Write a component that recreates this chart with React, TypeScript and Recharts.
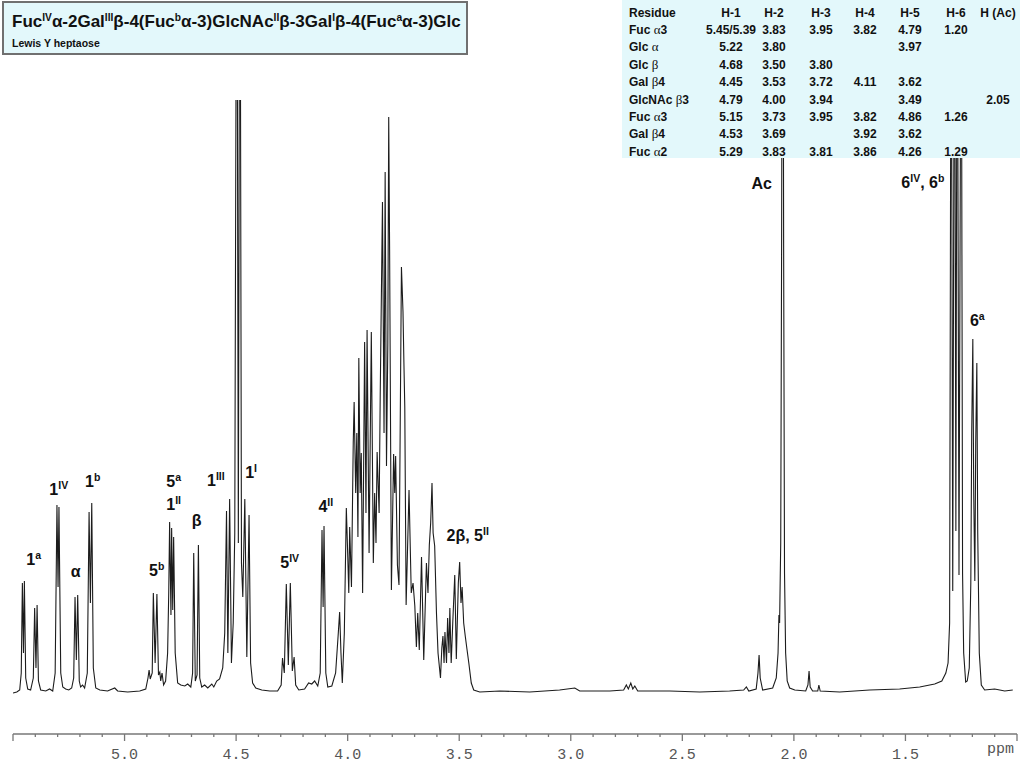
import React from 'react';
import { LineChart, Line, XAxis, YAxis, ReferenceDot } from 'recharts';

type Pt = [number, number];

// [chemical shift (ppm), intensity above baseline]
const anomericRegion: Pt[] = [
  [5.5, 0], [5.483, 1], [5.47, 3], [5.463, 20], [5.458, 110], [5.453, 40], [5.449, 112], [5.443, 15],
  [5.434, 4], [5.421, 3], [5.409, 15], [5.403, 85], [5.397, 25], [5.392, 88], [5.386, 12], [5.376, 3],
  [5.353, 2], [5.336, 4], [5.322, 2], [5.311, 20], [5.303, 188], [5.298, 106], [5.294, 186], [5.286, 20],
  [5.277, 6], [5.264, 4], [5.25, 3], [5.237, 5], [5.228, 15], [5.222, 96], [5.216, 33], [5.21, 98],
  [5.203, 12], [5.197, 6], [5.188, 8], [5.179, 5], [5.167, 20], [5.159, 181], [5.153, 90], [5.147, 190],
  [5.14, 25], [5.129, 5], [5.111, 3], [5.076, 2], [5.044, 5], [5.031, 2], [4.986, 1], [4.932, 2],
  [4.905, 4], [4.895, 15], [4.89, 23], [4.885, 14], [4.876, 20], [4.871, 100], [4.863, 30], [4.855, 99],
  [4.848, 18], [4.842, 21], [4.838, 12], [4.832, 20], [4.825, 8], [4.816, 12], [4.807, 40], [4.802, 100],
  [4.798, 171], [4.792, 78], [4.789, 165], [4.784, 83], [4.78, 156], [4.773, 40], [4.762, 10], [4.748, 8],
  [4.73, 7], [4.717, 9], [4.703, 6], [4.695, 20], [4.69, 140], [4.683, 12], [4.675, 18], [4.669, 148],
  [4.663, 15], [4.654, 6], [4.641, 8], [4.627, 5], [4.609, 9], [4.6, 6], [4.587, 12], [4.574, 14],
  [4.56, 25], [4.551, 60], [4.543, 182], [4.537, 40], [4.529, 194], [4.521, 30], [4.513, 70], [4.506, 160],
  [4.497, 900], [4.49, 150], [4.483, 900], [4.476, 130], [4.47, 96], [4.461, 194], [4.452, 36], [4.442, 178],
  [4.435, 30], [4.426, 10], [4.412, 5], [4.385, 3], [4.349, 2], [4.314, 2], [4.298, 8], [4.292, 35],
  [4.284, 20], [4.275, 109], [4.266, 28], [4.257, 110], [4.248, 22], [4.24, 36], [4.233, 8], [4.219, 3],
];

const ringRegion: Pt[] = [
  [4.193, 4], [4.175, 10], [4.161, 9], [4.148, 12], [4.134, 7], [4.123, 20], [4.115, 163], [4.11, 86],
  [4.106, 167], [4.098, 20], [4.089, 6], [4.071, 7], [4.054, 20], [4.042, 60], [4.036, 81], [4.03, 40],
  [4.024, 10], [4.015, 60], [4.006, 185], [4.0, 140], [3.995, 100], [3.991, 166], [3.983, 106], [3.975, 250],
  [3.971, 291], [3.964, 200], [3.959, 260], [3.954, 156], [3.95, 335], [3.944, 200], [3.939, 240], [3.933, 100],
  [3.924, 351], [3.918, 180], [3.913, 363], [3.904, 140], [3.894, 361], [3.885, 130], [3.879, 200], [3.873, 150],
  [3.868, 241], [3.859, 180], [3.854, 300], [3.844, 491], [3.837, 260], [3.832, 521], [3.826, 227], [3.82, 350],
  [3.816, 576], [3.812, 443], [3.804, 103], [3.794, 239], [3.789, 200], [3.785, 237], [3.777, 128], [3.77, 108],
  [3.759, 426], [3.752, 381], [3.748, 331], [3.744, 286], [3.738, 88], [3.725, 203], [3.715, 100], [3.707, 110],
  [3.699, 87], [3.692, 46], [3.686, 80], [3.679, 43], [3.669, 136], [3.659, 33], [3.647, 130], [3.64, 100],
  [3.634, 148], [3.628, 170], [3.622, 210], [3.617, 160], [3.61, 147], [3.602, 80], [3.595, 40], [3.584, 15],
  [3.578, 45], [3.573, 57], [3.568, 30], [3.564, 61], [3.557, 30], [3.552, 75], [3.546, 40], [3.542, 85],
  [3.536, 30], [3.529, 70], [3.52, 118], [3.513, 34], [3.504, 110], [3.498, 131], [3.492, 90], [3.487, 106],
  [3.48, 70], [3.473, 57], [3.466, 45], [3.457, 30], [3.446, 10], [3.435, 3], [3.408, 1],
];

const baselineRegion: Pt[] = [
  [3.318, 2], [3.184, 1], [3.05, 3], [2.982, 5], [2.96, 2], [2.825, 2], [2.763, 3], [2.751, 8],
  [2.742, 4], [2.731, 10], [2.722, 4], [2.713, 7], [2.7, 2], [2.556, 2], [2.422, 1], [2.288, 2],
  [2.225, 3], [2.213, 6], [2.202, 2], [2.169, 4], [2.161, 20], [2.156, 38], [2.151, 15], [2.14, 3],
];

const acetylRegion: Pt[] = [
  [2.095, 5], [2.079, 15], [2.071, 40], [2.067, 78], [2.064, 70], [2.059, 150], [2.055, 450], [2.05, 1000],
  [2.046, 450], [2.042, 120], [2.037, 40], [2.03, 12], [2.019, 5], [1.996, 3], [1.947, 2], [1.937, 8],
  [1.932, 22], [1.927, 6], [1.916, 2], [1.893, 2], [1.888, 8], [1.882, 2], [1.795, 1], [1.66, 3],
  [1.526, 4], [1.436, 6], [1.369, 9],
];

const methylRegion: Pt[] = [
  [1.337, 12], [1.319, 20], [1.309, 30], [1.302, 70], [1.295, 800], [1.288, 102], [1.28, 800], [1.274, 162],
  [1.268, 800], [1.26, 118], [1.25, 800], [1.244, 120], [1.239, 40], [1.23, 11], [1.223, 12], [1.214, 25],
  [1.207, 110], [1.203, 260], [1.198, 354], [1.194, 200], [1.189, 112], [1.185, 250], [1.18, 330], [1.176, 160],
  [1.169, 40], [1.16, 8], [1.145, 3], [1.1, 4], [1.055, 2], [1.019, 3],
];

const axisTicks = [
  5.5, 5.4, 5.3, 5.2, 5.1, 5.0, 4.9, 4.8, 4.7, 4.6, 4.5, 4.4, 4.3, 4.2, 4.1, 4.0, 3.9, 3.8, 3.7, 3.6,
  3.5, 3.4, 3.3, 3.2, 3.1, 3.0, 2.9, 2.8, 2.7, 2.6, 2.5, 2.4, 2.3, 2.2, 2.1, 2.0, 1.9, 1.8, 1.7, 1.6,
  1.5, 1.4, 1.3, 1.2, 1.1, 1.0,
];
const tickLabels = ['5.0', '4.5', '4.0', '3.5', '3.0', '2.5', '2.0', '1.5'];

type Part = [string, string];
const peakLabels: { ppm: number; height: number; parts: Part[] }[] = [
  { ppm: 5.407, height: 128, parts: [['1', ''], ['a', 'sup']] },
  { ppm: 5.295, height: 198, parts: [['1', ''], ['IV', 'sup']] },
  { ppm: 5.219, height: 116, parts: [['α', '']] },
  { ppm: 5.143, height: 206, parts: [['1', ''], ['b', 'sup']] },
  { ppm: 4.856, height: 117, parts: [['5', ''], ['b', 'sup']] },
  { ppm: 4.78, height: 206, parts: [['5', ''], ['a', 'sup']] },
  { ppm: 4.78, height: 183, parts: [['1', ''], ['II', 'sup']] },
  { ppm: 4.677, height: 167, parts: [['β', '']] },
  { ppm: 4.591, height: 207, parts: [['1', ''], ['III', 'sup']] },
  { ppm: 4.433, height: 215, parts: [['1', ''], ['I', 'sup']] },
  { ppm: 4.26, height: 125, parts: [['5', ''], ['IV', 'sup']] },
  { ppm: 4.098, height: 181, parts: [['4', ''], ['II', 'sup']] },
  { ppm: 3.462, height: 152, parts: [['2β, 5', ''], ['II', 'sup']] },
  { ppm: 2.144, height: 504, parts: [['Ac', '']] },
  { ppm: 1.422, height: 505, parts: [['6', ''], ['IV', 'sup'], [', 6', ''], ['b', 'sup']] },
  { ppm: 1.178, height: 367, parts: [['6', ''], ['a', 'sup']] },
];

const titleParts: Part[] = [
  ['Fuc', ''], ['IV', 'sup'], ['α-2Gal', ''], ['III', 'sup'], ['β-4(Fuc', ''], ['b', 'sup'],
  ['α-3)GlcNAc', ''], ['II', 'sup'], ['β-3Gal', ''], ['I', 'sup'], ['β-4(Fuc', ''], ['a', 'sup'], ['α-3)Glc', ''],
];
const subtitle = 'Lewis Y heptaose';

const tableHeader = ['Residue', 'H-1', 'H-2', 'H-3', 'H-4', 'H-5', 'H-6', 'H (Ac)'];
const residues = ['Fuc α3', 'Glc α', 'Glc β', 'Gal β4', 'GlcNAc β3', 'Fuc α3', 'Gal β4', 'Fuc α2'];
const tableValues = [
  ['5.45/5.39', '3.83', '3.95', '3.82', '4.79', '1.20', ''],
  ['5.22', '3.80', '', '', '3.97', '', ''],
  ['4.68', '3.50', '3.80', '', '', '', ''],
  ['4.45', '3.53', '3.72', '4.11', '3.62', '', ''],
  ['4.79', '4.00', '3.94', '', '3.49', '', '2.05'],
  ['5.15', '3.73', '3.95', '3.82', '4.86', '1.26', ''],
  ['4.53', '3.69', '', '3.92', '3.62', '', ''],
  ['5.29', '3.83', '3.81', '3.86', '4.26', '1.29', ''],
];

const spectrum = [...anomericRegion, ...ringRegion, ...baselineRegion, ...acetylRegion, ...methylRegion].map(
  ([ppm, intensity]) => ({ ppm, intensity })
);

const SANS = "Arial, 'Liberation Sans', Helvetica, sans-serif";
const MONO = "'Liberation Mono', 'Courier New', monospace";
const PANEL_BG = '#e3f8fb';

const AxisTick = (props: any) => {
  const { x, y, payload } = props;
  const v = payload.value as number;
  const major = Math.abs(v * 2 - Math.round(v * 2)) < 1e-6;
  const label = v.toFixed(1);
  const show = tickLabels.includes(label);
  return (
    <g>
      <line x1={x} x2={x} y1={y} y2={y + (major ? 7 : 3)} stroke="#777" strokeWidth={1.3} />
      {show && (
        <text x={x} y={y + 25} textAnchor="middle" fontFamily={MONO} fontSize={15} fill="#555">
          {label}
        </text>
      )}
    </g>
  );
};

const PeakLabel = ({ cx, cy, parts }: { cx: number; cy: number; parts: Part[] }) => (
  <text x={cx} y={cy} textAnchor="middle" fontFamily={SANS} fontWeight="bold" fontSize={16} fill="#111">
    {parts.map(([t, kind], i) =>
      kind === 'sup' ? (
        <tspan key={i} fontSize={10.5} dy={-6}>
          {t}
        </tspan>
      ) : (
        <tspan key={i} dy={i > 0 && parts[i - 1][1] === 'sup' ? 6 : 0}>
          {t}
        </tspan>
      )
    )}
  </text>
);

const greekSplit = (s: string) =>
  s.split(/([αβ])/).map((p, i) =>
    p === 'α' || p === 'β' ? (
      <span key={i} style={{ fontFamily: "'Liberation Serif', 'Times New Roman', serif", fontWeight: 400, fontSize: 13 }}>
        {p}
      </span>
    ) : (
      <span key={i}>{p}</span>
    )
  );

const colCenters = [0, 109, 152, 199, 243, 288, 334, 376];
const rowTop = (r: number) => 12.5 + r * 17.4;

export default function App() {
  return (
    <div style={{ position: 'absolute', left: 0, top: 0, width: 1024, height: 768, background: '#fff', fontFamily: SANS }}>
      <LineChart
        width={1024}
        height={768}
        data={spectrum}
        margin={{ top: 100, right: 7, bottom: 4, left: 13 }}
      >
        <XAxis
          dataKey="ppm"
          type="number"
          domain={[1.0, 5.5]}
          reversed
          allowDataOverflow
          ticks={axisTicks}
          interval={0}
          tick={<AxisTick />}
          tickLine={false}
          tickSize={0}
          tickMargin={0}
          height={30}
          axisLine={{ stroke: '#777', strokeWidth: 1.5 }}
        />
        <YAxis hide type="number" domain={[-41, 593]} allowDataOverflow />
        <Line
          type="linear"
          dataKey="intensity"
          stroke="#1c1c1c"
          strokeWidth={1.1}
          dot={false}
          activeDot={false}
          isAnimationActive={false}
        />
        {peakLabels.map((l, i) => (
          <ReferenceDot
            key={i}
            x={l.ppm}
            y={l.height}
            r={1}
            shape={(p: any) => <PeakLabel cx={p.cx} cy={p.cy} parts={l.parts} />}
          />
        ))}
      </LineChart>

      <div
        style={{
          position: 'absolute',
          left: 987,
          top: 741,
          fontFamily: MONO,
          fontSize: 15,
          color: '#555',
          width: 29,
          overflow: 'hidden',
          whiteSpace: 'nowrap',
        }}
      >
        ppm
      </div>

      {/* Title box */}
      <div
        style={{
          position: 'absolute',
          left: 2,
          top: 1,
          width: 466,
          height: 54,
          boxSizing: 'border-box',
          background: PANEL_BG,
          border: '2px solid #707070',
        }}
      >
        <div
          style={{
            position: 'absolute',
            left: 8,
            top: 8,
            fontSize: 17,
            fontWeight: 700,
            lineHeight: '22px',
            whiteSpace: 'nowrap',
            color: '#111',
          }}
        >
          {titleParts.map(([t, kind], i) =>
            kind === 'sup' ? (
              <span key={i} style={{ fontSize: '0.6em', position: 'relative', top: '-0.62em' }}>
                {t}
              </span>
            ) : (
              <span key={i}>{t}</span>
            )
          )}
        </div>
        <div
          style={{
            position: 'absolute',
            left: 8,
            top: 34,
            fontSize: 10.5,
            fontWeight: 700,
            lineHeight: '13px',
            whiteSpace: 'nowrap',
            color: '#111',
          }}
        >
          {subtitle}
        </div>
      </div>

      {/* Chemical shift table */}
      <div
        style={{
          position: 'absolute',
          left: 622,
          top: 0,
          width: 398,
          height: 158,
          background: PANEL_BG,
          fontSize: 12,
          fontWeight: 700,
          color: '#111',
        }}
      >
        {tableHeader.map((h, c) => (
          <div
            key={'h' + c}
            style={
              c === 0
                ? { position: 'absolute', left: 7, top: rowTop(0) - 7, lineHeight: '14px', whiteSpace: 'nowrap' }
                : {
                    position: 'absolute',
                    left: colCenters[c] - 30,
                    width: 60,
                    textAlign: 'center',
                    top: rowTop(0) - 7,
                    lineHeight: '14px',
                    whiteSpace: 'nowrap',
                  }
            }
          >
            {h}
          </div>
        ))}
        {residues.map((name, r) => (
          <React.Fragment key={'r' + r}>
            <div
              style={{ position: 'absolute', left: 7, top: rowTop(r + 1) - 7, lineHeight: '14px', whiteSpace: 'nowrap' }}
            >
              {greekSplit(name)}
            </div>
            {tableValues[r].map((v, c) =>
              v ? (
                <div
                  key={c}
                  style={{
                    position: 'absolute',
                    left: colCenters[c + 1] - 35,
                    width: 70,
                    textAlign: 'center',
                    top: rowTop(r + 1) - 7,
                    lineHeight: '14px',
                    whiteSpace: 'nowrap',
                  }}
                >
                  {v}
                </div>
              ) : null
            )}
          </React.Fragment>
        ))}
      </div>
    </div>
  );
}
